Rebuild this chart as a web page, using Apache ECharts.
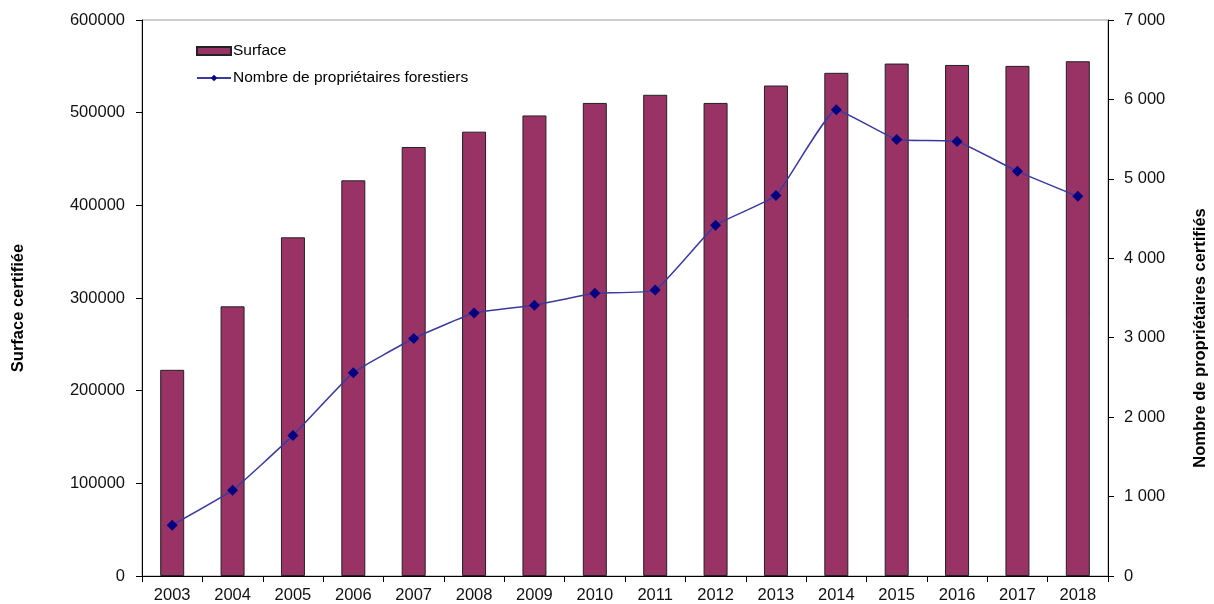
<!DOCTYPE html>
<html><head><meta charset="utf-8">
<script src="https://cdn.jsdelivr.net/npm/echarts@6/dist/echarts.min.js"></script>
<style>html,body{margin:0;padding:0;background:#fff}#c{width:1214px;height:604px}</style>
</head><body><div id="c"></div>
<script>
const years = ['2003','2004','2005','2006','2007','2008','2009','2010','2011','2012','2013','2014','2015','2016','2017','2018'];
const surface = [222500,291000,365500,427000,463000,479500,497000,510500,519300,510500,529300,543000,553000,551500,550500,555500];
const proprietaires = [640,1080,1770,2560,2990,3310,3410,3560,3600,4415,4790,5870,5495,5470,5095,4780];
const leftTicks = {min:0, max:600000, interval:100000};
const rightTicks = {min:0, max:7000, interval:1000};

const chart = echarts.init(document.getElementById('c'));
const font = 'Arial, "Liberation Sans", sans-serif';
const spaceFmt = v => String(v).replace(/\B(?=(\d{3})+(?!\d))/g, ' ');
chart.setOption({
  animation:false,
  textStyle:{fontFamily:font},
  grid:{left:142,right:106,top:20,bottom:26,show:true,borderColor:'#999',borderWidth:1},
  legend:{orient:'vertical',left:191,top:38,itemWidth:34,itemHeight:8,itemGap:11,
    textStyle:{fontSize:15.5,color:'#000',fontFamily:font,padding:[0,0,0,-3]},
    data:[{name:'Surface',icon:'rect'},{name:'Nombre de propriétaires forestiers'}]},
  xAxis:{type:'category',data:years,boundaryGap:true,
    axisLine:{lineStyle:{color:'#000',width:1}},
    axisTick:{show:true,alignWithLabel:false,length:6,lineStyle:{color:'#000'}},
    axisLabel:{fontSize:16.5,color:'#111',margin:11,fontFamily:font}},
  yAxis:[
    {type:'value',...leftTicks,position:'left',
      axisLine:{show:true,lineStyle:{color:'#000'}},
      axisTick:{show:true,length:6,lineStyle:{color:'#000'}},
      axisLabel:{fontSize:16.5,color:'#111',margin:17,fontFamily:font,formatter:v=>String(v)},
      splitLine:{show:false}},
    {type:'value',...rightTicks,position:'right',
      axisLine:{show:true,lineStyle:{color:'#000'}},
      axisTick:{show:true,length:6,lineStyle:{color:'#000'}},
      axisLabel:{fontSize:16.5,color:'#111',margin:16,fontFamily:font,formatter:spaceFmt},
      splitLine:{show:false}}
  ],
  graphic:[
    {type:'text',rotation:Math.PI/2,x:18,y:308,
      style:{text:'Surface certifiée',font:'bold 16.5px '+font,fill:'#000',align:'center',verticalAlign:'middle'}},
    {type:'text',rotation:Math.PI/2,x:1200,y:338,
      style:{text:'Nombre de propriétaires certifiés',font:'bold 16.5px '+font,fill:'#000',align:'center',verticalAlign:'middle'}}
  ],
  series:[
    {name:'Surface',type:'bar',data:surface,yAxisIndex:0,barWidth:24,
      itemStyle:{color:'#993366',borderColor:'#222',borderWidth:1}},
    {name:'Nombre de propriétaires forestiers',type:'line',data:proprietaires,yAxisIndex:1,
      smooth:0.12,symbol:'diamond',symbolSize:11,
      lineStyle:{color:'#3a3aa0',width:1.5},
      itemStyle:{color:'#000080'}}
  ]
});
</script></body></html>
